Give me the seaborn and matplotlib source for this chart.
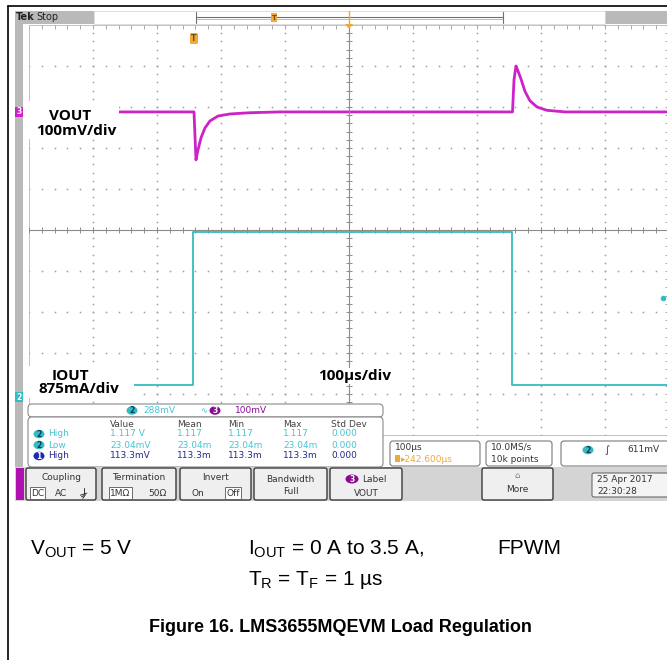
import matplotlib
matplotlib.use("Agg")
import matplotlib.pyplot as plt
import numpy as np
import pandas as pd
import seaborn as sns
from matplotlib.patches import Rectangle, FancyBboxPatch, Ellipse, Polygon

# ---------------- data ----------------
# VOUT (ch3, AC view): deviation in mV vs time in us (time 0 = left edge of screen)
vout_time_us = [0, 257.8, 260.9, 264.0, 268.8, 275.0, 282.8, 295.3, 314.0, 345.0, 392.0,
                755.5, 757.8, 760.9, 764.0, 768.8, 775.0, 782.8, 793.8, 809.0, 837.5, 1000]
vout_dev_mv = [0, 0, -117, -93, -63, -39, -22, -10, -5, -2, 0,
               0, 78, 112, 100, 80, 50, 27, 12, 4, 0, 0]
# IOUT (ch2): load current step in A
iout_time_us = [0, 256.2, 256.2, 754.7, 754.7, 1000]
iout_amp = [0, 0, 3.26, 3.26, 0, 0]

VOUT_MV_PER_DIV = 100
VOUT_POS_DIV = 2.88
IOUT_A_PER_DIV = 0.875
IOUT_POS_DIV = -3.78
CH2_MV_PER_DIV = 288
TRIG_MV = 611

meas_labels = ["High", "Low", "High"]
meas_chan = ["2", "2", "1"]
meas_value = ["1.117 V", "23.04mV", "113.3mV"]
meas_mean = ["1.117", "23.04m", "113.3m"]
meas_min = ["1.117", "23.04m", "113.3m"]
meas_max = ["1.117", "23.04m", "113.3m"]
meas_std = ["0.000", "0.000", "0.000"]
meas_headers = ["Value", "Mean", "Min", "Max", "Std Dev"]

menu_titles = ["Coupling", "Termination", "Invert", "Bandwidth"]
menu_subs = [["DC", "AC", "GND"], ["1MΩ", "50Ω"], ["On", "Off"], ["Full"]]

# ---------------- style ----------------
sns.set_theme(style="white")
plt.rcParams["font.family"] = ["DejaVu Sans"]
plt.rcParams["mathtext.fontset"] = "custom"
plt.rcParams["mathtext.rm"] = "Liberation Sans"

MAG = "#cc22c8"
CYAN = "#33bcc4"
CYAN_T = "#46c4d2"
NAVY = "#1f2a8a"
PURP = "#8a0a90"
ORANGE = "#eea93a"
GRID = "#9c9c9c"
UI = "#333333"

W, H = 667, 660
fig = plt.figure(figsize=(W / 100, H / 100), dpi=100)
fig.patch.set_facecolor("white")

# graticule: x 29..669 px, y 25..435 px
pos = [29 / W, (H - 435) / H, 640 / W, 410 / H]
ax = fig.add_axes(pos)
ax.set_xlim(0, 1000)
ax.set_ylim(-5, 5)
ax.set_facecolor("white")
for s in ax.spines.values():
    s.set_color("#b8b8b8")
    s.set_linewidth(0.6)
ax.set_xticks(np.arange(0, 1001, 100))
ax.set_yticks(np.arange(-5, 5.1, 1))
ax.set_xticks(np.arange(0, 1001, 20), minor=True)
ax.set_yticks(np.arange(-5, 5.1, 0.2), minor=True)
ax.tick_params(which="both", direction="in", length=3, width=0.6, color="#9a9a9a",
               top=True, right=True, labelleft=False, labelbottom=False)
ax.set_xlabel("")
ax.set_ylabel("")

# dotted division grid
for gx in np.arange(100, 1000, 100):
    if gx == 500:
        continue
    yy = np.arange(-5, 5.01, 0.2)
    ax.plot(np.full_like(yy, gx), yy, ls="none", marker="s", ms=1.1, mew=0, color=GRID)
for gy in np.arange(-4, 5, 1):
    if gy == 0:
        continue
    xx = np.arange(0, 1001, 20)
    ax.plot(xx, np.full_like(xx, gy, dtype=float), ls="none", marker="s", ms=1.1, mew=0, color=GRID)

# centre crosshair with ticks
axc = fig.add_axes(pos, sharex=ax, sharey=ax)
axc.patch.set_alpha(0)
axc.spines["left"].set_position(("data", 500))
axc.spines["bottom"].set_position(("data", 0))
axc.spines["top"].set_visible(False)
axc.spines["right"].set_visible(False)
for k in ("left", "bottom"):
    axc.spines[k].set_color("#8c8c8c")
    axc.spines[k].set_linewidth(0.8)
axc.tick_params(which="both", direction="inout", length=5, width=0.7, color="#8c8c8c",
                labelleft=False, labelbottom=False, left=True, bottom=True)

# traces
df_v = pd.DataFrame({"t": vout_time_us,
                     "y": [VOUT_POS_DIV + v / VOUT_MV_PER_DIV for v in vout_dev_mv]})
df_i = pd.DataFrame({"t": iout_time_us,
                     "y": [IOUT_POS_DIV + a / IOUT_A_PER_DIV for a in iout_amp]})
sns.lineplot(data=df_v, x="t", y="y", sort=False, estimator=None, color=MAG, lw=2.0, ax=axc)
sns.lineplot(data=df_i, x="t", y="y", sort=False, estimator=None, color=CYAN, lw=1.3, ax=axc)
axc.plot([990], [IOUT_POS_DIV + TRIG_MV / CH2_MV_PER_DIV], marker="o", ms=3, color=CYAN)
axc.set_xlabel("")
axc.set_ylabel("")

# ---------------- overlay (pixel coordinates) ----------------
ov = fig.add_axes([0, 0, 1, 1], zorder=10)
ov.set_xlim(0, W)
ov.set_ylim(H, 0)
ov.axis("off")
ov.patch.set_alpha(0)


def rect(x, y, w, h, fc, ec="none", lw=0.8, r=0.0, z=1):
    if r > 0:
        p = FancyBboxPatch((x, y), w, h, boxstyle=f"round,pad=0,rounding_size={r}",
                           fc=fc, ec=ec, lw=lw, zorder=z)
    else:
        p = Rectangle((x, y), w, h, fc=fc, ec=ec, lw=lw, zorder=z)
    ov.add_patch(p)


def txt(x, y, s, size=6.5, color=UI, ha="left", va="center", weight="normal", **kw):
    ov.text(x, y, s, fontsize=size, color=color, ha=ha, va=va, fontweight=weight, zorder=5, **kw)


def badge(x, y, s, color, w=11, h=8.5):
    ov.add_patch(Ellipse((x, y), w, h, fc=color, ec="none", zorder=4))
    txt(x, y + 0.3, s, size=5.5, color="white" if color != CYAN else "#0a3a60", ha="center", weight="bold")


def ground_symbol(x, y):
    # coupling "ground" icon (no installed font has the glyph)
    ov.plot([x, x], [y - 5, y + 1], color=UI, lw=0.7, zorder=5)
    for k, hw in enumerate([4, 2.8, 1.6]):
        yy = y + 1 + k * 1.6
        ov.plot([x - hw, x + hw - 1.5], [yy + 1.2, yy - 0.8], color=UI, lw=0.7, zorder=5)


# outer frame
ov.plot([8, 8], [6, 660], color="black", lw=1.2, zorder=6)
ov.plot([8, 667], [6, 6], color="black", lw=1.2, zorder=6)

# left gray strip and top bar
rect(15, 11, 8, 457, "#b9b9b9")
rect(15, 11, 79, 13, "#b9b9b9")
rect(605, 11, 62, 13, "#b9b9b9")
rect(94, 11, 511, 13, "white", ec="#d0d0d0", lw=0.5)
ov.plot([196, 503], [16.5, 16.5], color="#707070", lw=0.8, zorder=3)
ov.plot([196, 503], [19, 19], color="#b0b0b0", lw=0.6, zorder=3)
ov.plot([196, 196], [12, 23], color="#707070", lw=0.8, zorder=3)
ov.plot([503, 503], [12, 23], color="#707070", lw=0.8, zorder=3)
txt(16, 17, "Tek", size=7, color="#222222", weight="bold")
txt(36, 17, "Stop", size=7, color="#222222")
rect(271, 13, 6, 9, ORANGE, z=4)
txt(274, 17.5, "T", size=5, color="#7a4a00", ha="center", weight="bold")
ov.plot([349, 349], [11, 24], color=ORANGE, lw=1.0, zorder=4)
ov.add_patch(Polygon([[345, 24], [353, 24], [349, 29]], closed=True, fc=ORANGE, ec="none", zorder=4))
rect(190, 33, 8, 11, ORANGE, r=1.5, z=4)
txt(194, 38.5, "T", size=5.5, color="#7a4a00", ha="center", weight="bold")

# channel markers
rect(15, 107, 8, 10, MAG, z=4)
txt(19, 112, "3", size=5.5, color="white", ha="center", weight="bold")
rect(15, 392, 8, 10, CYAN, z=4)
txt(19, 397, "2", size=5.5, color="white", ha="center", weight="bold")

# channel labels with white backgrounds
rect(29, 101, 90, 38, "white", z=3)
txt(70, 116, "VOUT", size=11, color="black", ha="center", weight="bold", family="Open Sans")
txt(76, 131, "100mV/div", size=11, color="black", ha="center", weight="bold", family="Open Sans")
rect(29, 366, 105, 32, "white", z=3)
txt(70, 376, "IOUT", size=11, color="black", ha="center", weight="bold", family="Open Sans")
txt(79, 389, "875mA/div", size=11, color="black", ha="center", weight="bold", family="Open Sans")
txt(355, 376, "100µs/div", size=11, color="black", ha="center", weight="bold", family="Open Sans",
    bbox=dict(fc="white", ec="none", pad=1.0))

# ---------------- readout panel ----------------
rect(28, 404, 355, 13, "white", ec="#8a8a8a", lw=0.8, r=4)
badge(132, 410.5, "2", CYAN)
txt(143, 410.5, "288mV", color=CYAN_T)
txt(200, 410.5, "∿", color=CYAN_T, size=6)
badge(215, 410.5, "3", PURP)
txt(235, 410.5, "100mV", color=PURP)

rect(28, 417, 355, 50, "white", ec="#8a8a8a", lw=0.8, r=4)
col_x = [110, 177, 228, 283, 331]
for cx, hname in zip(col_x, meas_headers):
    txt(cx, 424.5, hname, color="#444444")
row_y = [434, 445, 456]
for i in range(3):
    c = CYAN_T if meas_chan[i] == "2" else NAVY
    bc = CYAN if meas_chan[i] == "2" else "#1c2bb0"
    badge(39, row_y[i], meas_chan[i], bc)
    txt(48, row_y[i], meas_labels[i], color=c)
    for cx, val in zip(col_x, [meas_value[i], meas_mean[i], meas_min[i], meas_max[i], meas_std[i]]):
        txt(cx, row_y[i], val, color=c)

rect(390, 441, 90, 25, "white", ec="#7a7a7a", lw=0.8, r=3)
txt(395, 447.5, "100µs", color=UI)
rect(395, 455, 5, 7, ORANGE, z=4)
txt(401, 459, "▸242.600µs", color=ORANGE)
rect(486, 441, 66, 25, "white", ec="#7a7a7a", lw=0.8, r=3)
txt(491, 447.5, "10.0MS/s", color=UI)
txt(491, 459, "10k points", color=UI)
rect(561, 441, 110, 25, "white", ec="#7a7a7a", lw=0.8, r=3)
badge(588, 450, "2", CYAN)
txt(604, 450, "∫", color=UI, size=7)
txt(627, 450, "611mV", color=UI)

# ---------------- menu bar ----------------
rect(15, 467, 652, 34, "#d4d4d4")
rect(16, 468, 8, 32, "#b010b0", z=2)
btns = [(26, 70), (102, 74), (180, 71), (254, 73)]
for (bx, bw), title, subs in zip(btns, menu_titles, menu_subs):
    rect(bx, 468, bw, 32, "#efefef", ec="#3a3a3a", lw=1.0, r=2, z=2)
    cx = bx + bw / 2
    if title == "Bandwidth":
        txt(cx, 479, title, ha="center")
        txt(cx, 492, subs[0], ha="center")
        continue
    txt(cx, 477, title, ha="center")
    n = len(subs)
    xs = [bx + bw * (k + 0.5) / n for k in range(n)]
    for k, (sx, s) in enumerate(zip(xs, subs)):
        boxed = (title == "Coupling" and k == 0) or (title == "Termination" and k == 0) or \
                (title == "Invert" and k == 1)
        if s == "GND":
            ground_symbol(sx, 493)
        elif boxed:
            txt(sx, 493, s, ha="center", bbox=dict(fc="white", ec="#555555", lw=0.6, pad=0.8))
        else:
            txt(sx, 493, s, ha="center")

rect(330, 468, 72, 32, "#efefef", ec="#3a3a3a", lw=1.0, r=2, z=2)
badge(352, 479, "3", PURP, w=13, h=9)
txt(362, 479, "Label", color=UI)
txt(366, 493, "VOUT", ha="center")
rect(482, 468, 71, 32, "#efefef", ec="#3a3a3a", lw=1.0, r=2, z=2)
txt(517.5, 476, "⌂", ha="center", color="#777777", size=6)
txt(517.5, 490, "More", ha="center")
rect(592, 473, 80, 24, "#f4f4f4", ec="#6a6a6a", lw=0.8, r=2, z=2)
txt(597, 480, "25 Apr 2017", color=UI)
txt(597, 491, "22:30:28", color=UI)

# ---------------- caption text ----------------
CAP = dict(family="Liberation Sans", color="black")
txt(30, 549, r"$\mathregular{V_{OUT}}$ = 5 V", size=15, **CAP)
txt(248, 549, r"$\mathregular{I_{OUT}}$ = 0 A to 3.5 A,", size=15, **CAP)
txt(497, 549, "FPWM", size=15, **CAP)
txt(248, 580, r"$\mathregular{T_{R}}$ = $\mathregular{T_{F}}$ = 1 µs", size=15, **CAP)
txt(340, 627, "Figure 16. LMS3655MQEVM Load Regulation", size=13, ha="center",
    weight="bold", **CAP)

fig.savefig("out.png", dpi=100, facecolor="white")
